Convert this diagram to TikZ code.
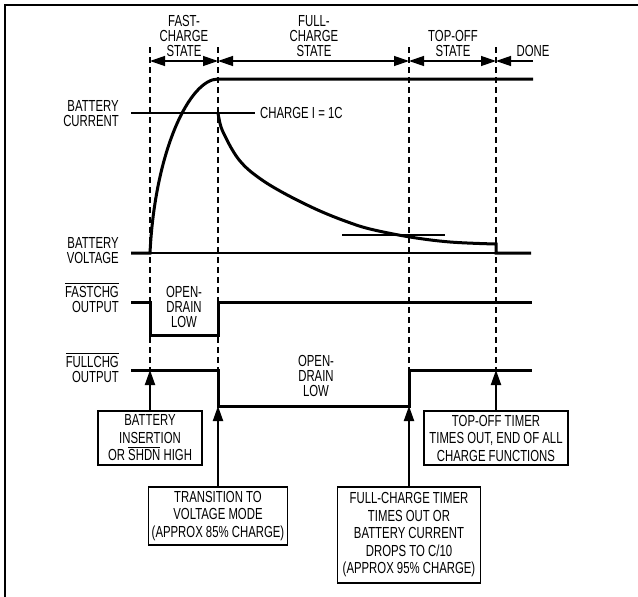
\documentclass[tikz,border=0pt]{standalone}
\usepackage{fontspec}
\setmainfont{Liberation Sans}[FakeStretch=0.71]
\usetikzlibrary{arrows.meta}
\newcommand\ovl[1]{\leavevmode\vbox{\hrule height 0.9pt \kern 2pt \hbox{#1}}}
\begin{document}
\begin{tikzpicture}[x=1pt,y=-1pt,
  lbl/.style={font=\fontsize{16}{15.2}\selectfont, align=right, anchor=south east, inner sep=0pt},
  toplbl/.style={font=\fontsize{16}{15.2}\selectfont, align=center, anchor=south, inner sep=0pt},
  evbox/.style={draw, line width=1.3pt, font=\fontsize{16}{17.5}\selectfont, align=center, inner sep=0pt},
  wave/.style={line width=3pt, line join=miter},
  thinline/.style={line width=1.3pt},
  guide/.style={line width=1.2pt, dash pattern=on 6pt off 4pt},
  tip/.tip={Triangle[length=15pt,width=10pt]},
  span/.style={line width=1.3pt, tip-tip},
  spanl/.style={line width=1.3pt, tip-},
  evarrow/.style={line width=2pt, -tip},
]
\useasboundingbox (0,0) rectangle (638,597);
% frame
\draw[line width=2.3pt] (5,597) -- (5,5) -- (638,5);

% guides
\foreach \gx/\gn in {150/ga,218/gb,409/gc,496/gd}{
  \coordinate (\gn top) at (\gx,47);
  \coordinate (\gn bot) at (\gx,370);
  \draw[guide] (\gn top) -- (\gn bot);
}

% state labels
\node[toplbl] (fast) at (184,57) {FAST-\\CHARGE\\STATE};
\node[toplbl] (full) at (314,57) {FULL-\\CHARGE\\STATE};
\node[toplbl] (topoff) at (453,57) {TOP-OFF\\STATE};
\node[toplbl] (done) at (533,57) {DONE};

% span arrows
\coordinate (sa) at (150,61);
\coordinate (sb) at (218,61);
\coordinate (sc) at (409,61);
\coordinate (sd) at (496,61);
\coordinate (se) at (533,61);
\draw[span] (sa) -- (sb);
\draw[span] (sb) -- (sc);
\draw[span] (sc) -- (sd);
\draw[spanl] (sd) -- (se);

% left labels
\node[lbl] (bc) at (119,127) {BATTERY\\CURRENT};
\node[lbl] (bv) at (119,264) {BATTERY\\VOLTAGE};
\node[lbl] (fo) at (119,313) {\ovl{FASTCHG}\\OUTPUT};
\node[lbl] (fu) at (119,383) {\ovl{FULLCHG}\\OUTPUT};

% battery current level and label
\draw[line width=1.6pt] (131,113) -- (255,113);
\node[font=\fontsize{16}{15}\selectfont, anchor=base west, inner sep=0pt] (ci) at (260,118.5) {CHARGE I = 1C};

% zero line and C/10 marker
\draw[thinline] (150,253) -- (496,253);
\draw[thinline] (342,235) -- (445,235);

% battery voltage
\draw[wave] (131,253) -- (150,253) .. controls (155,150) and (190,79) .. (218,79) -- (533,79);

% battery current decay
\draw[wave] plot[smooth, tension=0.6] coordinates {(218,113) (221,127) (227,140) (233,151) (240,161) (250,171) (265,182) (280,191) (297,200) (320,211) (345,221) (370,229) (410,237) (450,242) (495,244)}
  -- (496,244) -- (496,253) -- (531,253);

% FASTCHG output
\draw[wave] (131,302) -- (150,302) -- (150,335) -- (218,335) -- (218,302) -- (532,302);
\node[toplbl] (od1) at (184,328) {OPEN-\\DRAIN\\LOW};

% FULLCHG output
\draw[wave] (131,370) -- (218,370) -- (218,406) -- (409,406) -- (409,370) -- (532,370);
\node[toplbl] (od2) at (316,397) {OPEN-\\DRAIN\\LOW};

% event boxes
\node[evbox, minimum width=104pt, minimum height=54pt] (b1) at (150,438) {BATTERY\\INSERTION\\OR \ovl{SHDN} HIGH};
\node[evbox, minimum width=139pt, minimum height=58pt] (b2) at (218,516) {TRANSITION TO\\VOLTAGE MODE\\(APPROX 85\% CHARGE)};
\node[evbox, minimum width=143pt, minimum height=96pt] (b3) at (409,535) {FULL-CHARGE TIMER\\TIMES OUT OR\\BATTERY CURRENT\\DROPS TO C/10\\(APPROX 95\% CHARGE)};
\node[evbox, minimum width=144pt, minimum height=54pt] (b4) at (496,438) {TOP-OFF TIMER\\TIMES OUT, END OF ALL\\CHARGE FUNCTIONS};

% event arrows
\coordinate (e1) at (150,370);
\coordinate (e2) at (218,406);
\coordinate (e3) at (409,406);
\coordinate (e4) at (496,370);
\draw[evarrow] (b1.north) -- (e1);
\draw[evarrow] (b2.north) -- (e2);
\draw[evarrow] (b3.north) -- (e3);
\draw[evarrow] (b4.north) -- (e4);
\end{tikzpicture}
\end{document}
